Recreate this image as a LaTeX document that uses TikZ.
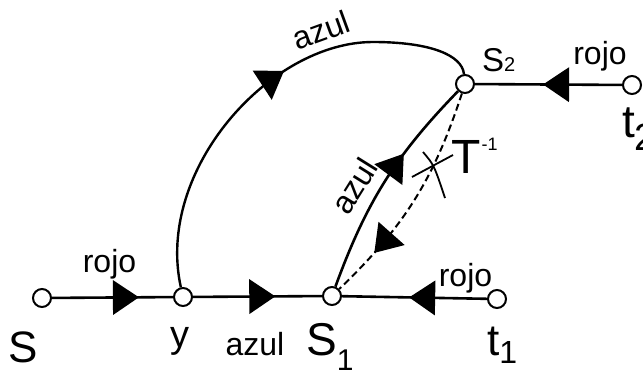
\documentclass[tikz,border=0pt]{standalone}
\usepackage{fontspec}
\setmainfont{Liberation Sans}
\usetikzlibrary{decorations.markings}
\begin{document}
\begin{tikzpicture}[x=1pt,y=1pt,
  vtx/.style={circle,draw,fill=white,line width=2pt,minimum size=18pt,inner sep=0pt},
  edge/.style={line width=2.6pt},
  midarrow/.style={postaction={decorate,decoration={markings,mark=at position #1 with {\fill[solid] (-25pt,-17.5pt) -- (1pt,0pt) -- (-25pt,17.5pt) -- cycle;}}}},
  lbl/.style={inner sep=0pt,anchor=base},
  lblw/.style={inner sep=0pt,anchor=base west},
  txt/.style={font=\fontsize{32}{32}\selectfont},
]
\useasboundingbox (0,0) rectangle (643,373);
% vertices
\node[vtx] (s)  at (42,75) {};
\node[vtx] (y)  at (183,76) {};
\node[vtx] (s1) at (332,77) {};
\node[vtx] (t1) at (497,74) {};
\node[vtx] (s2) at (465,289) {};
\node[vtx] (t2) at (632,288) {};
\coordinate (top) at (373,331);
% edges
\draw[edge,midarrow=0.71] (s) -- (y);
\draw[edge,midarrow=0.63] (y) -- (s1);
\draw[edge,midarrow=0.53] (t1) -- (s1);
\draw[edge,midarrow=0.53] (t2) -- (s2);
\draw[edge,midarrow=0.64] (s1) to[bend left=12] (s2);
\draw[edge,line width=2pt,dash pattern=on 7pt off 4pt,midarrow=0.78] (s2) to[bend left=14] (s1);
\draw[edge,line width=2.4pt,midarrow=0.56] (y) .. controls (155,203) and (270,331) .. (top) .. controls (430,331) and (462,318) .. (s2);
% cross mark
\coordinate (c1) at (412,196);
\coordinate (c2) at (453,218);
\coordinate (c3) at (423,221);
\coordinate (c4) at (445,175);
\draw[line width=1.8pt] (c1) -- (c2);
\draw[line width=1.8pt] (c3) .. controls (434,208) .. (c4);
% labels
\node[lbl,font=\fontsize{44}{44}\selectfont] (ls) at (23.5,11) {S};
\node[lbl,font=\fontsize{38}{38}\selectfont] (ly) at (180,26) {y};
\node[lbl,txt] (la1) at (255,18) {azul};
\node[lblw] (ls1) at (306,18) {\fontsize{46}{46}\selectfont S\raisebox{-15pt}{\fontsize{30}{30}\selectfont 1}};
\node[lblw] (lt1) at (487,18) {\fontsize{44}{44}\selectfont t\raisebox{-8pt}{\fontsize{32}{32}\selectfont 1}};
\node[lblw] (ls2) at (482,301) {\fontsize{33}{33}\selectfont S\fontsize{20}{20}\selectfont 2};
\node[lblw] (lt2) at (622,236) {\fontsize{46}{46}\selectfont t\raisebox{-13pt}{\fontsize{38}{38}\selectfont 2}};
\node[lbl,txt] (lr1) at (109.5,101) {rojo};
\node[lbl,txt] (lr2) at (465.5,87) {rojo};
\node[lbl,txt] (lr3) at (600,308) {rojo};
\node[txt,inner sep=0pt,rotate=20] (la2) at (321,343) {azul};
\node[txt,inner sep=0pt,rotate=58] (la3) at (354,187) {azul};
\node[lblw] (lT) at (451,200) {\fontsize{48}{48}\selectfont T\hspace{1pt}\raisebox{23pt}{\fontsize{18}{18}\selectfont -1}};
\end{tikzpicture}
\end{document}
